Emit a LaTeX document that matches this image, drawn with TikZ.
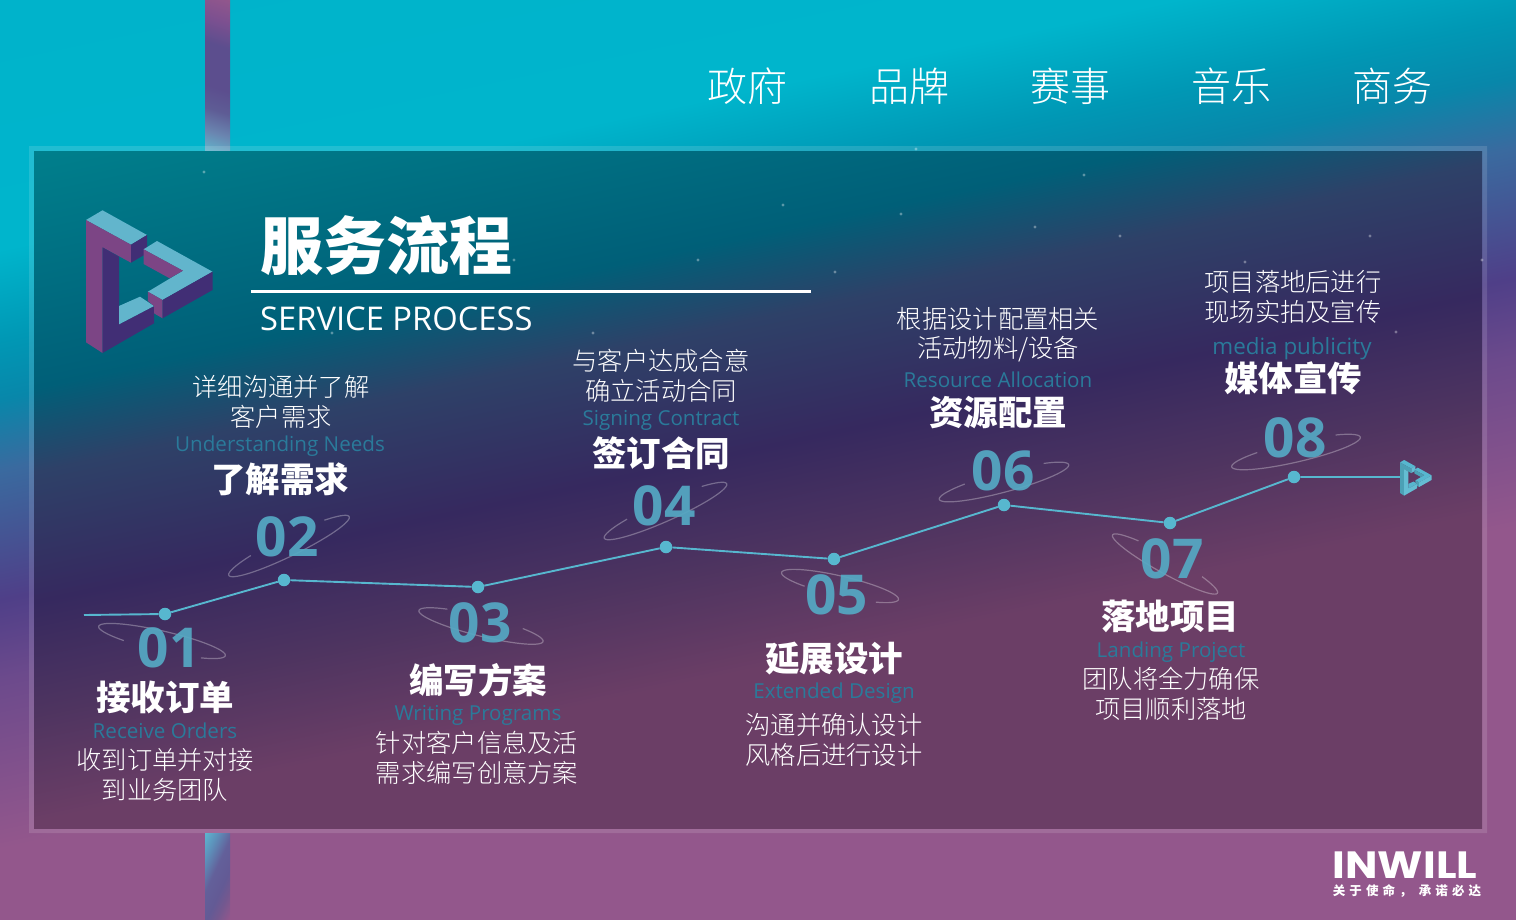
\documentclass[tikz,border=0pt]{standalone}
\usepackage{fontspec}
\setmainfont{Open Sans}
\newfontfamily\cjk{Noto Sans CJK SC}
\newfontfamily\cjkl{Noto Sans CJK SC Light}
\newfontfamily\latinf{Open Sans}
\newfontfamily\logof{Poppins}
\definecolor{lineblue}{HTML}{57B7CF}
\definecolor{engblue}{HTML}{2A7A9A}
\definecolor{digitblue}{HTML}{55A9C4}
\definecolor{logolight}{HTML}{62B5CC}
\definecolor{logopurple}{HTML}{7C4585}
\definecolor{logodark}{HTML}{412E75}
\definecolor{bgA}{HTML}{93578C}
\definecolor{bgB}{HTML}{6C4A8C}
\definecolor{bgC}{HTML}{4F3F88}
\definecolor{bgD}{HTML}{3A6A9F}
\definecolor{bgE}{HTML}{0887AA}
\definecolor{bgF}{HTML}{0098B5}
\definecolor{bgG}{HTML}{00B5CC}
\definecolor{bgH}{HTML}{00B3CB}
\definecolor{paA}{HTML}{6B3E66}
\definecolor{paB}{HTML}{4E3460}
\definecolor{paC}{HTML}{36295F}
\definecolor{paD}{HTML}{2E4168}
\definecolor{paE}{HTML}{005F78}
\definecolor{paF}{HTML}{007F8C}
\definecolor{barA}{HTML}{93578C}
\definecolor{barB}{HTML}{5C4E8E}
\definecolor{barC}{HTML}{62B5CC}
\definecolor{barD}{HTML}{6A85B0}
\definecolor{barE}{HTML}{5E5C95}
\definecolor{barF}{HTML}{7C5090}
\definecolor{barG}{HTML}{74588F}
\definecolor{barH}{HTML}{635A95}
\definecolor{barI}{HTML}{63609A}
\definecolor{barJ}{HTML}{5D90BA}
\definecolor{barK}{HTML}{5DB4CF}
\pgfdeclareverticalshading{bgsh}{100bp}{color(0bp)=(bgA); color(45.35bp)=(bgA); color(48.81bp)=(bgB); color(50.44bp)=(bgC); color(53.08bp)=(bgD); color(54.52bp)=(bgE); color(55.74bp)=(bgF); color(57.57bp)=(bgG); color(62.67bp)=(bgH); color(100bp)=(bgH)}
\pgfdeclareverticalshading{panelsh}{100bp}{color(0bp)=(paA); color(45.76bp)=(paA); color(48bp)=(paB); color(50.24bp)=(paC); color(52.89bp)=(paD); color(54.6bp)=(paE); color(59.41bp)=(paF); color(100bp)=(paF)}
\pgfdeclareverticalshading{bartop}{100bp}{color(0bp)=(barC); color(18.5bp)=(barC); color(27bp)=(barD); color(36bp)=(barE); color(45bp)=(barB); color(62bp)=(barB); color(72bp)=(barF); color(82bp)=(barA); color(100bp)=(barA)}
\pgfdeclareverticalshading{barbot}{100bp}{color(0bp)=(barA); color(17bp)=(barA); color(30bp)=(barG); color(40bp)=(barH); color(55bp)=(barI); color(70bp)=(barJ); color(83bp)=(barK); color(100bp)=(barK)}
\newcommand{\orbit}[7]{\draw[orbitline] plot[smooth,domain=#6:#7,samples=50,variable=\t]
 ({#1+#3*cos(\t)*cos(#5)-#4*sin(\t)*sin(#5)},{#2+#3*cos(\t)*sin(#5)+#4*sin(\t)*cos(#5)});}
\newcommand{\logodraw}[3]{%
 \fill[#1] (86,220)--(102.5,210.3)--(147,235)--(131,244.7)--cycle;
 \fill[#2] (86,220)--(131,244.7)--(131,262.7)--(102.5,247.3)--(102.5,353)--(86,342.3)--cycle;
 \fill[#3] (131,244.7)--(147,235)--(147,253.3)--(131,262.7)--cycle;
 \fill[#3] (102.5,247.3)--(119,256.7)--(119,324.3)--(154,306)--(154,323.3)--(102.5,353)--cycle;
 \fill[#1] (119,324.3)--(119,306)--(140,296.7)--(154,306)--cycle;
 \fill[#1] (143.6,249.3)--(157,241)--(212.5,271.7)--(162.5,300)--(147.9,291.7)--(183,270.7)--cycle;
 \fill[#2] (143.6,249.3)--(183,270.7)--(169.6,278.3)--(143.6,264)--cycle;
 \fill[#2] (147.9,291.7)--(162.5,300)--(162.5,318.3)--(154,313.3)--(154,306)--(147.9,301)--cycle;
 \fill[#3] (162.5,300)--(212.5,271.7)--(212.5,290)--(162.5,318.3)--cycle;
}
\tikzset{
 orbitline/.style={draw=white,draw opacity=.3,line width=1.2pt},
 nav/.style={text=white,font=\cjkl\fontsize{40}{44}\selectfont,inner sep=0pt},
 body/.style={text=white,font=\cjkl\fontsize{25.3}{30}\selectfont,inner sep=0pt},
 head/.style={text=white,font=\cjk\bfseries\fontsize{34.5}{40}\selectfont,inner sep=0pt},
 eng/.style={text=engblue,font=\latinf\fontsize{20.6}{26}\selectfont,inner sep=0pt},
 digit/.style={text=digitblue,text opacity=.92,font=\latinf\bfseries\fontsize{55}{60}\selectfont,inner sep=0pt},
 dotn/.style={circle,fill=lineblue,inner sep=0pt,minimum size=12.5pt},
 flow/.style={draw=lineblue,line width=1.9pt},
 star/.style={fill=white,fill opacity=.35}
}
\begin{document}
\begin{tikzpicture}[x=1pt,y=-1pt]
\useasboundingbox (0,0) rectangle (1516,919);
% background
\begin{scope}
 \clip (0,0) rectangle (1516,919);
 \begin{scope}[transform canvas={rotate around={12:(758,460)}}]
  \shade[shading=bgsh] (-442,-740) rectangle (1958,1660);
 \end{scope}
\end{scope}
% bars
\shade[shading=bartop,shading angle=-18] (205,0) rectangle (230,151);
\shade[shading=barbot,shading angle=65] (205,833) rectangle (230,919);
% panel
\fill[white,opacity=.13,even odd rule] (29,146) rectangle (1487,833) (34,151) rectangle (1482,828);
\begin{scope}
 \clip (34,151) rectangle (1482,828);
 \begin{scope}[transform canvas={rotate around={12:(758,460)}}]
  \shade[shading=panelsh] (-442,-740) rectangle (1958,1660);
 \end{scope}
\end{scope}
% stars
\foreach \p in {(204,172),(916,149),(1084,175),(783,205),(901,214),(835,272),(698,260),(1120,236),(1035,227),(1245,262),(1370,236),(1396,332),(593,333),(514,260),(332,333),(1482,260)}
 \fill[star] \p circle (1.6);
% nav
\node[nav] (n1) at (747.5,86) {政府};
\node[nav] (n2) at (909.5,86) {品牌};
\node[nav] (n3) at (1070.5,86) {赛事};
\node[nav] (n4) at (1231.5,86) {音乐};
\node[nav] (n5) at (1392.5,86) {商务};
% logo
\logodraw{logolight}{logopurple}{logodark}
% title
\node[text=white,font=\cjk\bfseries\fontsize{63}{70}\selectfont,inner sep=0pt] (title) at (386,246) {服务流程};
\draw[white,line width=3pt] (251,291) -- (811,291);
\node[text=white,font=\latinf\fontsize{32.7}{38}\selectfont,inner sep=0pt,anchor=west] (sub) at (260,319) {SERVICE PROCESS};
% orbits
\orbit{162}{641}{65}{10}{13}{125}{410}
\orbit{289}{546}{67}{10}{-26}{-50}{235}
\orbit{481}{626}{64}{10}{14}{-50}{235}
\orbit{665.5}{511}{67}{10}{-24}{-50}{235}
\orbit{840}{586}{60}{10}{13}{125}{410}
\orbit{1004}{482}{67}{10}{-15}{-50}{235}
\orbit{1165}{564}{60}{9}{29}{-50}{235}
\orbit{1296}{452}{66}{10}{-13}{-50}{235}
% connector
\coordinate (start) at (84,615);
\coordinate (finish) at (1402,477);
\node[dotn] (p1) at (165,614) {};
\node[dotn] (p2) at (284,580) {};
\node[dotn] (p3) at (478,587) {};
\node[dotn] (p4) at (666,547) {};
\node[dotn] (p5) at (834,559) {};
\node[dotn] (p6) at (1004,505) {};
\node[dotn] (p7) at (1170,523) {};
\node[dotn] (p8) at (1294,477) {};
\draw[flow] (start)--(p1)--(p2)--(p3)--(p4)--(p5)--(p6)--(p7)--(p8)--(finish);
\begin{scope}[shift={(1378.5,407.4)},scale=.25]
 \logodraw{lineblue}{lineblue!88!black}{lineblue!92!white}
\end{scope}
% digits
\node[digit] (d1) at (169,648) {01};
\node[digit] (d2) at (287,537) {02};
\node[digit] (d3) at (480,623) {03};
\node[digit] (d4) at (664,506) {04};
\node[digit] (d5) at (836.5,595) {05};
\node[digit] (d6) at (1003,471) {06};
\node[digit] (d7) at (1172,559) {07};
\node[digit] (d8) at (1295,438) {08};
% step 1
\node[head] (h1) at (165,697) {接收订单};
\node[eng] (e1) at (165,731) {Receive Orders};
\node[body] (a1) at (165,760) {收到订单并对接};
\node[body] (b1) at (165,790) {到业务团队};
% step 2
\node[body] (a2) at (281,387) {详细沟通并了解};
\node[body] (b2) at (281,417) {客户需求};
\node[eng] (e2) at (280,446.5) {Understanding Needs};
\node[head] (h2) at (280,479.5) {了解需求};
% step 3
\node[head] (h3) at (478,680.5) {编写方案};
\node[eng] (e3) at (478,715.5) {Writing Programs};
\node[body] (a3) at (477,743) {针对客户信息及活};
\node[body] (b3) at (477,773) {需求编写创意方案};
% step 4
\node[body] (a4) at (661,361) {与客户达成合意};
\node[body] (b4) at (661,391) {确立活动合同};
\node[eng] (e4) at (661,420.5) {Signing Contract};
\node[head] (h4) at (661,453.5) {签订合同};
% step 5
\node[head] (h5) at (834,659) {延展设计};
\node[eng] (e5) at (834,693.5) {Extended Design};
\node[body] (a5) at (834,725) {沟通并确认设计};
\node[body] (b5) at (834,755) {风格后进行设计};
% step 6
\node[body] (a6) at (998,319) {根据设计配置相关};
\node[body] (b6) at (998,349) {活动物料/设备};
\node[eng] (e6) at (998,380) {Resource Allocation};
\node[head] (h6) at (998,413) {资源配置};
% step 7
\node[head] (h7) at (1170,616.5) {落地项目};
\node[eng] (e7) at (1171,652.5) {Landing Project};
\node[body] (a7) at (1171,679) {团队将全力确保};
\node[body] (b7) at (1171,709) {项目顺利落地};
% step 8
\node[body] (a8) at (1293,282) {项目落地后进行};
\node[body] (b8) at (1293,312) {现场实拍及宣传};
\node[eng,font=\latinf\fontsize{22.4}{26}\selectfont] (e8) at (1292,348.5) {media publicity};
\node[head] (h8) at (1293,378) {媒体宣传};
% brand
\node[text=white,font=\logof\bfseries\fontsize{38}{42}\selectfont,inner sep=0pt] (brand) at (1405,865) {\scalebox{1.135}[1]{INWILL}};
\node[text=white,font=\cjk\bfseries\fontsize{12.5}{14}\selectfont\addfontfeature{LetterSpace=33},inner sep=0pt] (slogan) at (1407,891) {关于使命， 承诺必达};
\end{tikzpicture}
\end{document}
